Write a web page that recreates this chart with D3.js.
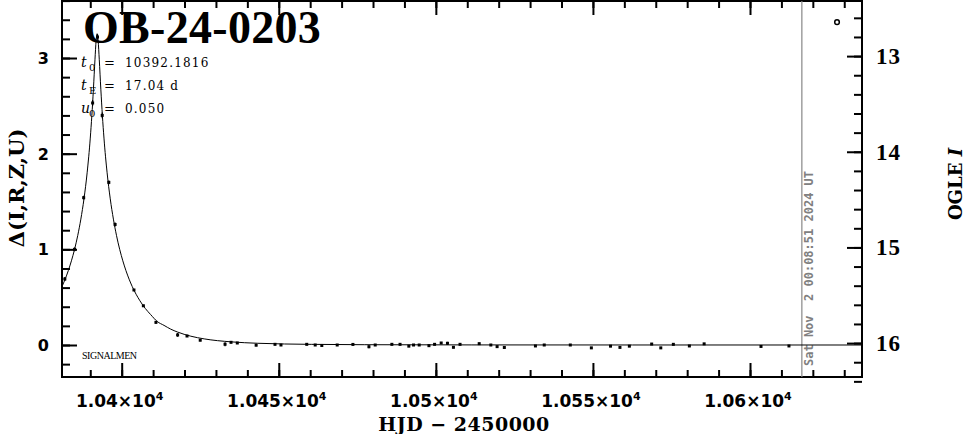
<!DOCTYPE html>
<html><head><meta charset="utf-8">
<script src="https://cdn.jsdelivr.net/npm/d3@7"></script>
<style>body{margin:0;background:#fff}svg{display:block}</style>
</head><body>
<script>
// ---------- data ----------
const title = "OB-24-0203";
const params = [
  {sym: "t", sub: "0", val: "10392.1816"},
  {sym: "t", sub: "E", val: "17.04 d"},
  {sym: "u", sub: "0", val: "0.050"}
];
const obsT = [10381.9,10385.0,10387.9,10390.75,10392.3,10393.8,10395.9,10397.9,10403.9,10406.9,10410.9,10417.8,10420.8,10425.0,10432.9,10434.8,10436.8,10442.8,10448.8,10450.7,10458.9,10461.6,10463.7,10468.6,10473.6,10478.7,10480.7,10486.0,10488.6,10491.4,10492.9,10494.7,10497.8,10499.6,10501.7,10503.7,10505.6,10507.7,10513.8,10517.5,10519.5,10521.8,10531.7,10534.5,10542.8,10549.5,10555.6,10558.6,10561.6,10568.7,10571.6,10575.6,10580.7,10585.4,10603.5,10612.4];
const obsD = [0.69,1.00,1.54,2.53,3.22,2.40,1.70,1.26,0.575,0.41,0.237,0.105,0.094,0.05,0.008,0.028,0.021,-0.002,0.007,0.0,0.007,0.0,-0.005,0.0,0.006,-0.018,0.0,0.007,0.007,-0.012,0.0,0.0,-0.007,0.007,0.021,0.018,-0.024,0.007,0.014,0.0,-0.017,-0.026,-0.01,0.0,0.0,-0.03,-0.012,-0.025,-0.012,0.01,-0.03,0.007,-0.01,0.012,-0.015,-0.01];
const obsE = [0.02,0.02,0.02,0.03,0.03,0.03,0.02,0.02,0.01,0.01,0.015,0.02,0.01,0.01,0.02,0.01,0.01,0.01,0.01,0.01,0.01,0.01,0.01,0.01,0.01,0.015,0.01,0.01,0.01,0.01,0.01,0.01,0.01,0.01,0.01,0.015,0.01,0.01,0.01,0.01,0.01,0.01,0.01,0.01,0.01,0.01,0.01,0.01,0.01,0.01,0.01,0.01,0.01,0.01,0.01,0.01];
// model curve
const modelT = [10381.0,10382.0,10383.0,10384.0,10385.0,10386.0,10387.0,10388.0,10389.0,10390.0,10390.5,10391.0,10391.5,10391.85,10392.18,10392.51,10392.86,10393.36,10393.86,10394.36,10395.36,10396.36,10397.36,10398.36,10399.36,10400.36,10401.36,10402.36,10403.36,10405.81,10407.5,10409.22,10411.3,10413.48,10415.6,10417.74,10422.0,10426.26,10434.78,10443.3,10460.34,10477.38,10511.46,10562.58,10635.7];
const modelD = [0.611,0.688,0.777,0.88,1.000,1.143,1.316,1.528,1.800,2.163,2.397,2.674,2.987,3.178,3.254,3.178,2.987,2.674,2.397,2.163,1.800,1.528,1.316,1.143,1.000,0.88,0.777,0.688,0.611,0.462,0.3825,0.318,0.246,0.205,0.166,0.136,0.092,0.064,0.033,0.018,0.0068,0.0031,0.0009,0.0002,0.0];
const xMajor = [10400,10450,10500,10550,10600];
const xMinor = d3.range(10390, 10640, 10);
const yMajor = [0,1,2,3];
const yMinor = d3.range(-0.2, 3.61, 0.2).map(v => +v.toFixed(1));
const magMajor = [13,14,15,16];
const magMinor = d3.range(12.6, 16.41, 0.2).map(v => +v.toFixed(1));
const baseMag = 16.02;
const nowT = 10616.506;
const nowLabel = "Sat Nov  2 00:08:51 2024 UT";
const legendT = 10627.7, legendD = 3.375;
const xTitle = "HJD \u2212 2450000";
const yTitle = "\u0394(I,R,Z,U)";
const y2Title = "OGLE ";
const survey = "SIGNALMEN";

// ---------- layout ----------
const W = 965, H = 434;
const L = 62, R = 862, T = 1, B = 377;
const svg = d3.select("body").append("svg").attr("width", W).attr("height", H);
const x = d3.scaleLinear().domain([10381.0, 10635.65]).range([L, R]);
const y = d3.scaleLinear().domain([-0.3345, 3.596]).range([B, T]);
const y2 = d3.scaleLinear().domain([baseMag + 0.3345, baseMag - 3.596]).range([B, T]);

svg.append("clipPath").attr("id", "c").append("rect")
  .attr("x", L).attr("y", T).attr("width", R - L).attr("height", B - T);

function styleAxis(g) {
  g.select(".domain").remove();
  g.selectAll(".tick line").attr("stroke", "#000").attr("stroke-width", 2);
  g.selectAll("text").remove();
}
// bottom / top
svg.append("g").attr("transform", `translate(0,${B})`).call(d3.axisBottom(x).tickValues(xMinor).tickSize(-7)).call(styleAxis);
svg.append("g").attr("transform", `translate(0,${B})`).call(d3.axisBottom(x).tickValues(xMajor).tickSize(-14)).call(styleAxis);
svg.append("g").attr("transform", `translate(0,${T})`).call(d3.axisTop(x).tickValues(xMinor).tickSize(-7)).call(styleAxis);
svg.append("g").attr("transform", `translate(0,${T})`).call(d3.axisTop(x).tickValues(xMajor).tickSize(-14)).call(styleAxis);
// left / right
svg.append("g").attr("transform", `translate(${L},0)`).call(d3.axisLeft(y).tickValues(yMinor).tickSize(-8)).call(styleAxis);
svg.append("g").attr("transform", `translate(${L},0)`).call(d3.axisLeft(y).tickValues(yMajor).tickSize(-15)).call(styleAxis);
svg.append("g").attr("transform", `translate(${R},0)`).call(d3.axisRight(y2).tickValues(magMinor).tickSize(-8)).call(styleAxis);
svg.append("g").attr("transform", `translate(${R},0)`).call(d3.axisRight(y2).tickValues(magMajor).tickSize(-15)).call(styleAxis);

// frame
svg.append("rect").attr("x", L).attr("y", T).attr("width", R - L).attr("height", B - T)
  .attr("fill", "none").attr("stroke", "#000").attr("stroke-width", 2);

// tick labels
svg.append("g").selectAll("text").data(yMajor).join("text")
  .attr("x", 49).attr("y", d => y(d) + 6).attr("text-anchor", "end")
  .attr("font-family", "DejaVu Sans").attr("font-weight", "bold").attr("font-size", 16)
  .text(d => d);
svg.append("g").selectAll("text").data(magMajor).join("text")
  .attr("x", 876).attr("y", d => y2(d) + 8)
  .attr("font-family", "Liberation Serif").attr("font-weight", "bold").attr("font-size", 23)
  .attr("letter-spacing", 1)
  .text(d => d);
const xl = svg.append("g").selectAll("text").data(xMajor).join("text")
  .attr("x", d => x(d) - 2).attr("y", 407).attr("text-anchor", "middle")
  .attr("font-family", "DejaVu Sans").attr("font-weight", "bold").attr("font-size", 17);
xl.append("tspan").text(d => (d / 1e4).toString() + "\u00d710");
xl.append("tspan").attr("dy", -7).attr("font-size", 11).text("4");

// axis titles
svg.append("text").attr("x", (L + R) / 2 + 2).attr("y", 431).attr("text-anchor", "middle")
  .attr("font-family", "DejaVu Serif").attr("font-weight", "bold").attr("font-size", 19)
  .attr("letter-spacing", 0.5)
  .text(xTitle);
svg.append("text").attr("transform", "translate(24,188) rotate(-90)").attr("text-anchor", "middle")
  .attr("font-family", "DejaVu Serif").attr("font-weight", "bold").attr("font-size", 21)
  .text(yTitle);
const t2 = svg.append("text").attr("transform", "translate(962,184) rotate(-90)").attr("text-anchor", "middle")
  .attr("font-family", "DejaVu Serif").attr("font-weight", "bold").attr("font-size", 18);
t2.append("tspan").text(y2Title);
t2.append("tspan").attr("font-style", "italic").text("I");

// now line
svg.append("line").attr("x1", x(nowT)).attr("x2", x(nowT)).attr("y1", T).attr("y2", B)
  .attr("stroke", "#888").attr("stroke-width", 1.2);
svg.append("text").attr("transform", `translate(${x(nowT) + 11},366) rotate(-90)`)
  .attr("font-family", "DejaVu Sans Mono").attr("font-weight", "bold").attr("font-size", 12)
  .attr("fill", "#808080").attr("xml:space", "preserve").style("white-space", "pre").text(nowLabel);

// model curve
const line = d3.line().x((d, i) => x(modelT[i])).y(d => y(d)).curve(d3.curveMonotoneX);
svg.append("path").datum(modelD).attr("d", line).attr("fill", "none")
  .attr("stroke", "#000").attr("stroke-width", 1).attr("clip-path", "url(#c)");

// observations
const pts = svg.append("g").attr("clip-path", "url(#c)");
pts.selectAll("line").data(obsD).join("line")
  .attr("x1", (d, i) => x(obsT[i])).attr("x2", (d, i) => x(obsT[i]))
  .attr("y1", (d, i) => y(d - obsE[i])).attr("y2", (d, i) => y(d + obsE[i]))
  .attr("stroke", "#000").attr("stroke-width", 1.2);
pts.selectAll("rect").data(obsD).join("rect")
  .attr("x", (d, i) => x(obsT[i]) - 1.5).attr("y", d => y(d) - 1.5)
  .attr("width", 3).attr("height", 3).attr("fill", "#000");

// legend marker
svg.append("circle").attr("cx", x(legendT)).attr("cy", y(legendD)).attr("r", 2.3)
  .attr("fill", "none").attr("stroke", "#000").attr("stroke-width", 1.5);

// title and parameters
svg.append("text").attr("x", 83).attr("y", 43)
  .attr("font-family", "Liberation Serif").attr("font-weight", "bold").attr("font-size", 46)
  .attr("letter-spacing", 0.3)
  .text(title);
const pg = svg.append("g").attr("font-family", "DejaVu Serif").attr("font-size", 12);
params.forEach((p, i) => {
  const by = 67 + i * 23;
  pg.append("text").attr("x", 81).attr("y", by).attr("font-style", "italic").attr("font-size", 14).text(p.sym);
  pg.append("text").attr("x", 89).attr("y", by + 4).attr("font-size", 10).text(p.sub);
  pg.append("text").attr("x", 104).attr("y", by).attr("font-size", 13).text("=");
  pg.append("text").attr("x", 125).attr("y", by).attr("letter-spacing", 1.2)
    .attr("xml:space", "preserve").style("white-space", "pre").text(p.val);
});
svg.append("text").attr("x", 82).attr("y", 359)
  .attr("font-family", "Liberation Serif").attr("font-size", 10).attr("textLength", 55)
  .text(survey);
</script>
</body></html>
